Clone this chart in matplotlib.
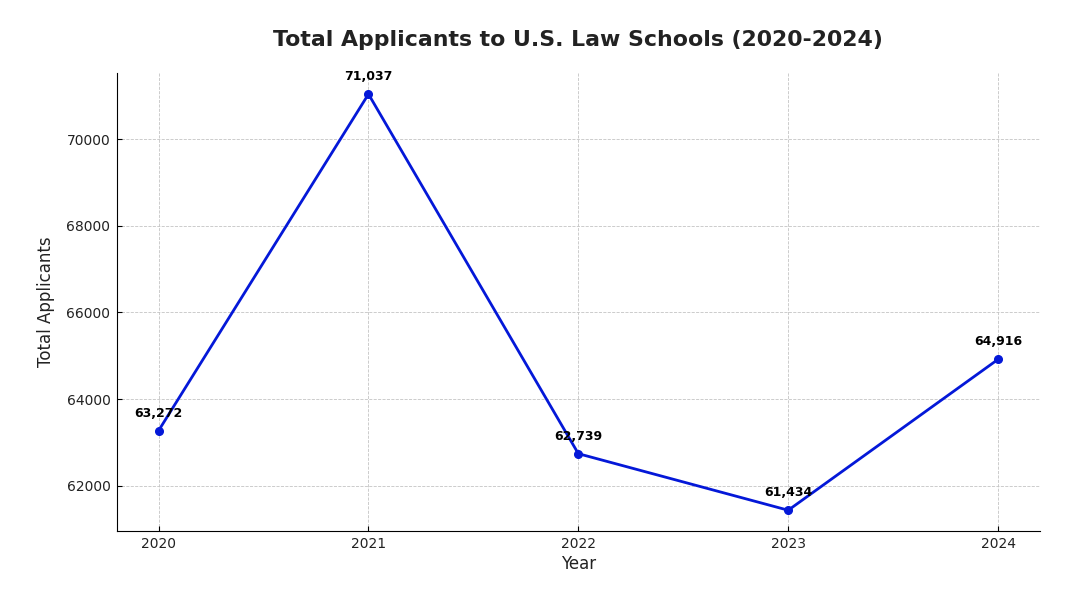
import matplotlib
matplotlib.use("Agg")
import matplotlib.pyplot as plt

# data
years = [2020, 2021, 2022, 2023, 2024]
applicants = [63272, 71037, 62739, 61434, 64916]

fig, ax = plt.subplots(figsize=(10.8, 5.96), dpi=100)
fig.subplots_adjust(left=0.108, right=0.963, top=0.877, bottom=0.109)

ax.plot(years, applicants, marker='o', color='#0418d8', linewidth=2, markersize=5.5)

for x, y in zip(years, applicants):
    ax.annotate(f"{y:,}", (x, y), textcoords="offset points", xytext=(0, 10),
                ha='center', fontsize=9, fontweight='bold')

ax.set_title("Total Applicants to U.S. Law Schools (2020-2024)", fontsize=15.8,
             fontweight='bold', pad=20, color='#222222')
ax.set_xlabel("Year", fontsize=12, color='#222222', labelpad=3)
ax.set_ylabel("Total Applicants", fontsize=12, labelpad=8, color='#222222')
ax.set_xticks(years)
ax.tick_params(direction='in', labelsize=10, pad=4.5, labelcolor='#222222')
ax.grid(True, linestyle='--', linewidth=0.6, color='#c4c4c4')
ax.spines['top'].set_visible(False)
ax.spines['right'].set_visible(False)

plt.savefig("out.png")
